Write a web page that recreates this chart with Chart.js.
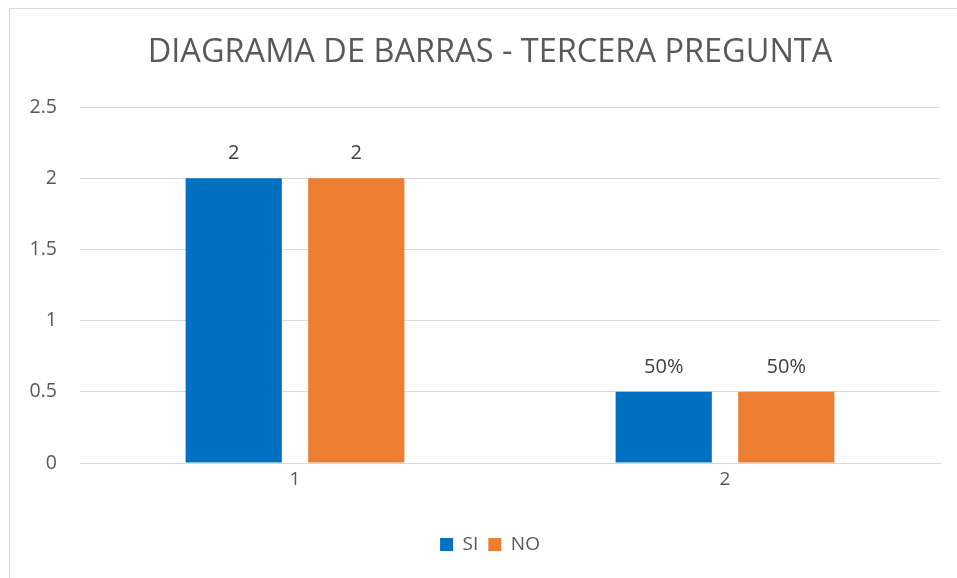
<!DOCTYPE html>
<html>
<head>
<meta charset="utf-8">
<script src="https://cdn.jsdelivr.net/npm/chart.js@4/dist/chart.umd.min.js"></script>
<style>
  html, body { margin: 0; padding: 0; background: #fff; overflow: hidden; }
  #wrap { width: 957px; height: 578px; position: relative; }
</style>
</head>
<body>
<div id="wrap"><canvas id="chart"></canvas></div>
<script>
// Chart data
const categories = ['1', '2'];
const siValues = [2, 0.5];
const noValues = [2, 0.5];
const siLabels = ['2', '50%'];
const noLabels = ['2', '50%'];
const yTicks = [0, 0.5, 1, 1.5, 2, 2.5];

const colors = {
  si: '#0070C0',
  no: '#ED7D31',
  text: '#595959',
  label: '#404040',
  grid: '#d9d9d9',
};

const fontFamily = '"Open Sans", "Liberation Sans", sans-serif';

// Outer frame of the chart (only top/left edges visible)
const framePlugin = {
  id: 'frame',
  beforeDraw(chart) {
    const ctx = chart.ctx;
    ctx.save();
    ctx.strokeStyle = '#d9d9d9';
    ctx.lineWidth = 1;
    ctx.strokeRect(9.5, 8.5, 1200, 1200);
    ctx.restore();
  },
};

// Title and legend are centred a bit right of the canvas centre in the original
const centreShiftPlugin = {
  id: 'centreShift',
  afterLayout(chart) {
    const shift = 20;
    [chart.titleBlock, chart.legend].forEach((box) => {
      if (!box) return;
      box.left += shift;
      box.right += shift;
    });
  },
};

// Value labels above each bar
const barLabelsPlugin = {
  id: 'barLabels',
  afterDatasetsDraw(chart) {
    const ctx = chart.ctx;
    const texts = [siLabels, noLabels];
    ctx.save();
    ctx.font = '20px ' + fontFamily;
    ctx.fillStyle = colors.label;
    ctx.textAlign = 'center';
    ctx.textBaseline = 'middle';
    chart.data.datasets.forEach((ds, i) => {
      const meta = chart.getDatasetMeta(i);
      meta.data.forEach((bar, j) => {
        ctx.fillText(texts[i][j], bar.x, bar.y - 25);
      });
    });
    ctx.restore();
  },
};

new Chart(document.getElementById('chart'), {
  type: 'bar',
  data: {
    labels: categories,
    datasets: [
      {
        label: 'SI',
        data: siValues,
        backgroundColor: colors.si,
        categoryPercentage: 0.57,
        barPercentage: 0.785,
      },
      {
        label: 'NO',
        data: noValues,
        backgroundColor: colors.no,
        categoryPercentage: 0.57,
        barPercentage: 0.785,
      },
    ],
  },
  options: {
    responsive: true,
    maintainAspectRatio: false,
    animation: false,
    layout: {
      padding: { top: 0, right: 17, bottom: 14, left: 0 },
    },
    plugins: {
      title: {
        display: true,
        text: 'DIAGRAMA DE BARRAS - TERCERA PREGUNTA',
        color: colors.text,
        font: { family: fontFamily, size: 32.5, weight: 'normal', lineHeight: 1.2 },
        padding: { top: 33, bottom: 35 },
      },
      legend: {
        position: 'bottom',
        labels: {
          color: colors.text,
          font: { family: fontFamily, size: 19 },
          boxWidth: 13,
          boxHeight: 13,
          padding: 10,
        },
      },
      tooltip: { enabled: false },
    },
    scales: {
      x: {
        grid: { display: false, drawTicks: false, tickLength: 0 },
        border: { display: true, color: colors.grid, width: 1 },
        ticks: {
          color: colors.text,
          font: { family: fontFamily, size: 19 },
          padding: 5,
        },
        afterFit(scale) {
          scale.height = 62;
        },
      },
      y: {
        min: 0,
        max: 2.5,
        afterBuildTicks(scale) {
          scale.ticks = yTicks.map((v) => ({ value: v }));
        },
        grid: { color: colors.grid, lineWidth: 1, drawTicks: false },
        border: { display: false },
        ticks: {
          color: colors.text,
          font: { family: fontFamily, size: 19.5 },
          padding: 23,
          callback: (v) => String(v),
        },
        afterFit(scale) {
          scale.width = 80;
        },
      },
    },
  },
  plugins: [framePlugin, centreShiftPlugin, barLabelsPlugin],
});
</script>
</body>
</html>
